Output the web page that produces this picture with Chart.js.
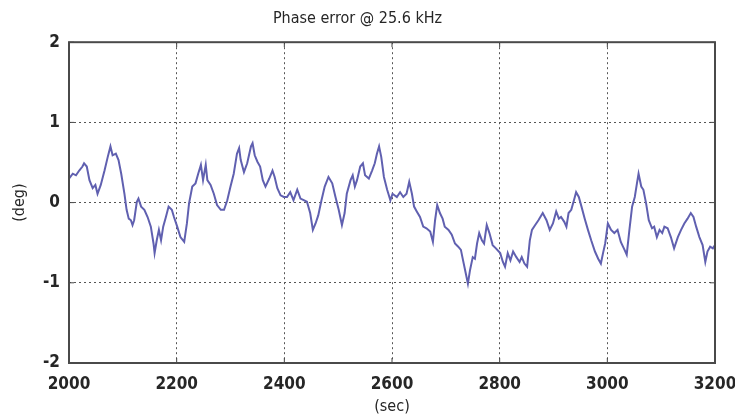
<!DOCTYPE html>
<html>
<head>
<meta charset="utf-8">
<script src="https://cdn.jsdelivr.net/npm/chart.js@4"></script>
<style>
  html, body { margin: 0; padding: 0; background: #fff; }
  #wrap { width: 735px; height: 418px; }
</style>
</head>
<body>
<div id="wrap"><canvas id="phaseChart" width="735" height="418"></canvas></div>
<script>
// time axis (sec)
const times = [
  2000, 2007, 2013, 2019, 2025, 2028, 2033, 2038, 2044, 2049, 2053, 2059, 2066, 2072, 2077, 2081, 2087, 2092, 2097, 2103,
  2107, 2111, 2115, 2118, 2121, 2126, 2129, 2134, 2140, 2146, 2152, 2157, 2159, 2163, 2167, 2171, 2175, 2180, 2185, 2191,
  2195, 2201, 2207, 2214, 2219, 2223, 2229, 2235, 2240, 2245, 2249, 2254, 2257, 2263, 2269, 2275, 2282, 2288, 2294, 2300,
  2306, 2312, 2316, 2319, 2325, 2331, 2338, 2341, 2345, 2350, 2355, 2360, 2365, 2372, 2378, 2382, 2387, 2393, 2399,
  2405, 2411, 2417, 2424, 2430, 2436, 2442, 2448, 2453, 2458, 2463, 2469, 2475, 2482, 2489, 2495, 2501, 2507, 2512, 2516,
  2523, 2527, 2531, 2535, 2541, 2546, 2550, 2557, 2563, 2568, 2572, 2576, 2580, 2585, 2591, 2597, 2601,
  2609, 2615, 2621, 2627, 2632, 2637, 2641, 2646, 2652, 2658, 2664, 2671, 2676, 2680, 2684, 2689, 2694, 2698, 2705, 2711,
  2717, 2723, 2728, 2732, 2737, 2741, 2745, 2750, 2754, 2758, 2762, 2767, 2771, 2776, 2781, 2787, 2793, 2801,
  2806, 2810, 2815, 2820, 2825, 2831, 2837, 2841, 2846, 2851, 2856, 2860, 2866, 2872, 2880, 2887, 2893, 2899, 2905, 2910,
  2914, 2920, 2924, 2928, 2933, 2938, 2942, 2947, 2952, 2958, 2964, 2970, 2977, 2983, 2988, 2992, 2996, 3001,
  3007, 3013, 3019, 3025, 3032, 3036, 3041, 3046, 3051, 3055, 3058, 3063, 3067, 3072, 3077, 3083, 3087, 3092, 3097, 3102,
  3106, 3112, 3118, 3124, 3131, 3137, 3143, 3149, 3155, 3160, 3165, 3171, 3177, 3182, 3186, 3191, 3196, 3200
];

// phase error (deg)
const phaseError = [
  0.30, 0.36, 0.34, 0.40, 0.45, 0.49, 0.45, 0.28, 0.18, 0.22, 0.11, 0.22, 0.40, 0.57, 0.70, 0.59, 0.61, 0.53, 0.36, 0.11,
  -0.09, -0.20, -0.22, -0.28, -0.22, 0.01, 0.05, -0.05, -0.09, -0.18, -0.30, -0.51, -0.63, -0.47, -0.34, -0.47, -0.30, -0.18, -0.05, -0.09,
  -0.18, -0.30, -0.43, -0.49, -0.26, -0.01, 0.20, 0.24, 0.36, 0.47, 0.28, 0.47, 0.28, 0.22, 0.11, -0.03, -0.09, -0.09, 0.03, 0.20,
  0.36, 0.61, 0.68, 0.53, 0.38, 0.49, 0.70, 0.74, 0.59, 0.51, 0.45, 0.28, 0.20, 0.30, 0.40, 0.32, 0.18, 0.09, 0.07,
  0.07, 0.13, 0.03, 0.16, 0.05, 0.03, 0.01, -0.13, -0.34, -0.26, -0.16, 0.03, 0.20, 0.32, 0.24, 0.07, -0.09, -0.28, -0.13, 0.11,
  0.28, 0.34, 0.20, 0.28, 0.45, 0.49, 0.34, 0.30, 0.40, 0.49, 0.61, 0.70, 0.57, 0.32, 0.16, 0.03, 0.11,
  0.07, 0.13, 0.07, 0.11, 0.26, 0.11, -0.05, -0.11, -0.18, -0.30, -0.32, -0.36, -0.49, -0.22, -0.03, -0.13, -0.20, -0.30, -0.34, -0.40,
  -0.51, -0.55, -0.59, -0.72, -0.88, -1.01, -0.84, -0.68, -0.70, -0.51, -0.38, -0.47, -0.51, -0.28, -0.38, -0.53, -0.57, -0.63,
  -0.74, -0.80, -0.63, -0.72, -0.61, -0.68, -0.74, -0.68, -0.76, -0.80, -0.47, -0.34, -0.28, -0.22, -0.13, -0.22, -0.34, -0.26, -0.11, -0.20,
  -0.18, -0.24, -0.30, -0.13, -0.09, 0.03, 0.13, 0.07, -0.05, -0.20, -0.34, -0.47, -0.61, -0.70, -0.76, -0.63, -0.51, -0.26,
  -0.34, -0.38, -0.34, -0.49, -0.59, -0.65, -0.34, -0.05, 0.07, 0.24, 0.36, 0.20, 0.16, -0.01, -0.22, -0.32, -0.30, -0.43, -0.34, -0.38,
  -0.30, -0.32, -0.43, -0.57, -0.43, -0.34, -0.26, -0.20, -0.13, -0.18, -0.30, -0.43, -0.53, -0.74, -0.61, -0.55, -0.57, -0.53
];

const xTicks = [2000, 2200, 2400, 2600, 2800, 3000, 3200];
const yTicks = [-2, -1, 0, 1, 2];

const FONT = "'DejaVu Sans Condensed', 'Liberation Sans', Arial, sans-serif";
const TEXT = '#262626';

// matlab-like box round the axes, with small inward ticks
const boxPlugin = {
    id: 'box',
    afterDraw(chart) {
        const ctx = chart.ctx;
        const a = chart.chartArea;
        const xs = chart.scales.x, ys = chart.scales.y;
        ctx.save();
        ctx.strokeStyle = '#444';
        ctx.lineWidth = 1;
        xTicks.forEach(v => {
            const px = xs.getPixelForValue(v);
            ctx.beginPath();
            ctx.moveTo(px, a.bottom); ctx.lineTo(px, a.bottom - 5);
            ctx.moveTo(px, a.top); ctx.lineTo(px, a.top + 5);
            ctx.stroke();
        });
        yTicks.forEach(v => {
            const py = ys.getPixelForValue(v);
            ctx.beginPath();
            ctx.moveTo(a.left, py); ctx.lineTo(a.left + 5, py);
            ctx.moveTo(a.right, py); ctx.lineTo(a.right - 5, py);
            ctx.stroke();
        });
        ctx.lineWidth = 2;
        ctx.strokeStyle = '#4a4a4a';
        ctx.strokeRect(a.left, a.top, a.right - a.left, a.bottom - a.top);
        ctx.restore();
    }
};

new Chart(document.getElementById('phaseChart').getContext('2d'), {
    type: 'line',
    data: {
        datasets: [{
            label: 'Phase error',
            data: times.map((t, i) => ({ x: t, y: phaseError[i] })),
            borderColor: 'rgb(96, 96, 176)',
            borderWidth: 2,
            pointRadius: 0,
            tension: 0
        }]
    },
    options: {
        responsive: false,
        animation: false,
        layout: { padding: { left: 0, right: 20, top: 0, bottom: 0 } },
        plugins: {
            legend: { display: false },
            tooltip: { enabled: false },
            title: {
                display: true,
                text: 'Phase error @ 25.6 kHz',
                color: TEXT,
                font: { family: FONT, size: 16, weight: 'normal' },
                padding: { top: 9, bottom: 14 }
            }
        },
        scales: {
            x: {
                type: 'linear',
                min: 2000,
                max: 3200,
                afterBuildTicks: s => { s.ticks = xTicks.map(v => ({ value: v })); },
                afterFit: s => { s.height = 55; s.paddingLeft = 0; s.paddingRight = 0; },
                ticks: {
                    color: TEXT,
                    font: { family: FONT, size: 17, weight: 'bold' },
                    padding: 11,
                    maxRotation: 0,
                    callback: v => String(v)
                },
                grid: { color: '#555', lineWidth: 1, drawTicks: false },
                border: { display: false, dash: [2, 3] },
                title: {
                    display: true,
                    text: '(sec)',
                    color: TEXT,
                    font: { family: FONT, size: 16 },
                    padding: { top: 0, bottom: 2 }
                }
            },
            y: {
                min: -2,
                max: 2,
                afterBuildTicks: s => { s.ticks = yTicks.map(v => ({ value: v })); },
                afterFit: s => { s.width = 69; s.paddingTop = 0; s.paddingBottom = 0; },
                ticks: {
                    color: TEXT,
                    font: { family: FONT, size: 17, weight: 'bold' },
                    padding: 9,
                    callback: v => String(v)
                },
                grid: { color: '#555', lineWidth: 1, drawTicks: false },
                border: { display: false, dash: [2, 3] },
                title: {
                    display: true,
                    text: '(deg)',
                    color: TEXT,
                    font: { family: FONT, size: 16 },
                    padding: { top: 10, bottom: 0 }
                }
            }
        }
    },
    plugins: [boxPlugin]
});
</script>
</body>
</html>
